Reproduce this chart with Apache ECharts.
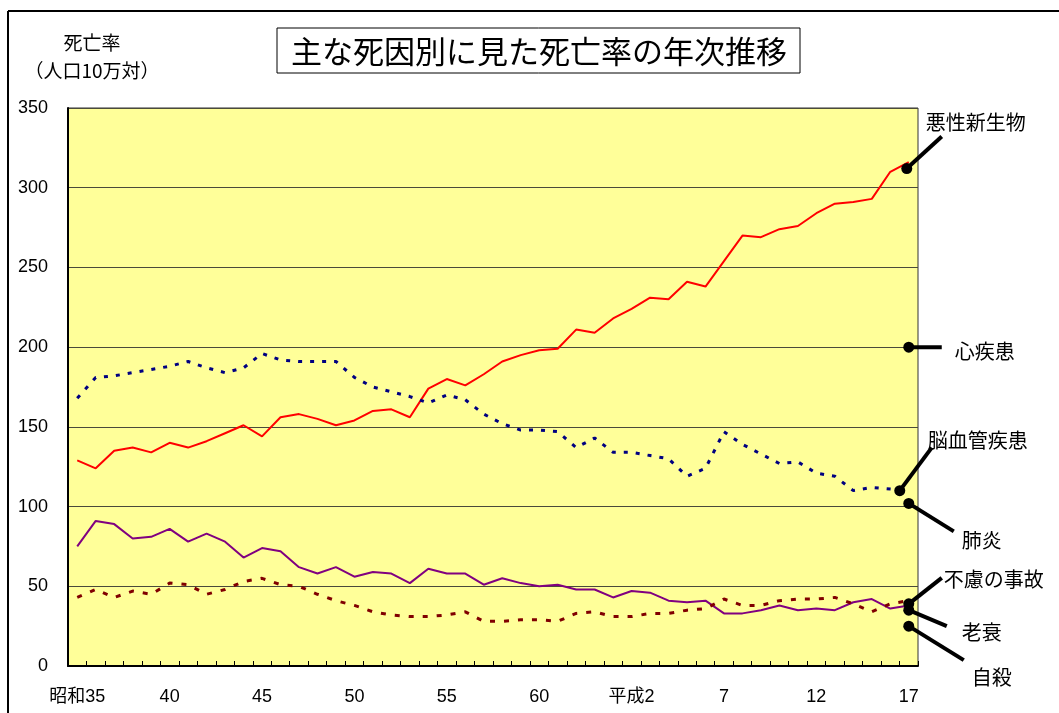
<!DOCTYPE html>
<html>
<head>
<meta charset="utf-8">
<script src="https://cdn.jsdelivr.net/npm/echarts@6/dist/echarts.min.js"></script>
<style>
  html, body { margin: 0; padding: 0; background: #fff; }
  #chart { width: 1059px; height: 713px; }
</style>
</head>
<body>
<div id="chart"></div>
<script>
// ---- data ----
const years = ['昭和35', '36', '37', '38', '39', '40', '41', '42', '43', '44', '45', '46', '47', '48', '49',
  '50', '51', '52', '53', '54', '55', '56', '57', '58', '59', '60', '61', '62', '63', '平成元',
  '平成2', '3', '4', '5', '6', '7', '8', '9', '10', '11', '12', '13', '14', '15', '16', '17'];

const cancer = [129, 124, 135, 137, 134, 140, 137, 141, 146, 151, 144, 156, 158, 155, 151, 154, 160, 161, 156, 174,
  180, 176, 183, 191, 195, 198, 199, 211, 209, 218, 224, 231, 230, 241, 238, 254, 270, 269, 274, 276,
  284, 290, 291, 293, 310, 316];
const cerebro = [168, 181, 182, 184, 186, 188, 191, 187, 184, 187, 196, 192, 191, 191, 191, 181, 175, 172, 169, 165,
  170, 167, 158, 152, 148, 148, 147, 137, 143, 134, 134, 132, 130, 119, 124, 147, 139, 133, 127, 128,
  121, 119, 110, 112, 111, 110];
const purple = [75, 91, 89, 80, 81, 86, 78, 83, 78, 68, 74, 72, 62, 58, 62, 56, 59, 58, 52, 61,
  58, 58, 51, 55, 52, 50, 51, 48, 48, 43, 47, 46, 41, 40, 41, 33, 33, 35, 38, 35,
  36, 35, 40, 42, 36, 38];
const brown = [43, 48, 43, 47, 45, 52, 51, 45, 48, 53, 55, 51, 50, 45, 41, 38, 34, 32, 31, 31,
  32, 34, 28, 28, 29, 29, 28, 33, 34, 31, 31, 33, 33, 35, 36, 42, 38, 38, 41, 42,
  42, 43, 39, 34, 39, 41];

// callout labels at the last year
const calloutNames = ['悪性新生物', '心疾患', '脳血管疾患', '肺炎', '不慮の事故', '老衰', '自殺'];
const calloutValues = [312, 200, 110, 102, 39, 35, 25];

// ---- styling ----
const JP = '"Noto Sans CJK JP", sans-serif';
const NUM = '"Liberation Sans", Arial, "Noto Sans CJK JP", sans-serif';
// leader line / text offsets from each marker (px)
const LEADER = {
  '悪性新生物': { mx: -2, lx: 35, ly: -32, tx: 19, ty: -46 },
  '心疾患':     { mx: 0, lx: 33, ly: 0, tx: 46, ty: 4 },
  '脳血管疾患': { mx: -9, lx: 32, ly: -43, tx: 28, ty: -50 },
  '肺炎':       { mx: 0, lx: 45, ly: 28, tx: 53, ty: 37 },
  '不慮の事故': { mx: 0, lx: 33, ly: -26, tx: 35, ty: -24 },
  '老衰':       { mx: 0, lx: 38, ly: 16, tx: 53, ty: 22 },
  '自殺':       { mx: 0, lx: 55, ly: 34, tx: 63, ty: 51 }
};

const chart = echarts.init(document.getElementById('chart'), null, { renderer: 'canvas' });

function lineSeries(name, data, style) {
  return { name, type: 'line', data, symbol: 'none', lineStyle: style, z: 3 };
}

chart.setOption({
  animation: false,
  backgroundColor: '#fff',
  grid: {
    left: 68, right: 141, top: 108, bottom: 47,
    show: true, backgroundColor: '#FFFF99', borderColor: '#333', borderWidth: 1,
    outerBoundsMode: 'none'
  },
  xAxis: {
    type: 'category',
    data: years,
    boundaryGap: true,
    axisLine: { lineStyle: { color: '#000', width: 2 } },
    axisTick: { show: true, inside: true, length: 5, interval: 0, lineStyle: { color: '#000', width: 1 } },
    axisLabel: { interval: 4, color: '#000', fontSize: 18, fontFamily: NUM, margin: 22 },
    splitLine: { show: false }
  },
  yAxis: {
    type: 'value',
    min: 0, max: 350, interval: 50,
    axisLine: { show: true, lineStyle: { color: '#000', width: 2 } },
    axisTick: { show: false },
    axisLabel: { color: '#000', fontSize: 18, fontFamily: NUM, margin: 20 },
    splitLine: { show: true, lineStyle: { color: '#4a4a3a', width: 1 } }
  },
  graphic: [
    // outer chart frame (left + top)
    { type: 'line', shape: { x1: 8, y1: 11, x2: 1059, y2: 11 }, style: { stroke: '#000', lineWidth: 2 } },
    { type: 'line', shape: { x1: 8, y1: 11, x2: 8, y2: 713 }, style: { stroke: '#000', lineWidth: 2 } },
    // boxed title
    { type: 'rect', shape: { x: 277, y: 28, width: 523, height: 45 }, style: { fill: '#fff', stroke: '#000', lineWidth: 1 } },
    { type: 'text', x: 539, y: 51, style: { text: '主な死因別に見た死亡率の年次推移', font: '31px ' + JP, fill: '#000', align: 'center', verticalAlign: 'middle' } },
    // y axis title
    { type: 'text', x: 92, y: 43, style: { text: '死亡率', font: '19px ' + JP, fill: '#000', align: 'center', verticalAlign: 'middle' } },
    { type: 'text', x: 92, y: 71, style: { text: '（人口10万対）', font: '19px ' + JP, fill: '#000', align: 'center', verticalAlign: 'middle' } }
  ],
  series: [
    lineSeries('悪性新生物', cancer, { color: '#FF0000', width: 2 }),
    lineSeries('脳血管疾患', cerebro, { color: '#000080', width: 3, type: [4, 8] }),
    lineSeries('老衰', purple, { color: '#800080', width: 2 }),
    lineSeries('不慮の事故', brown, { color: '#800000', width: 3, type: [5, 9] }),
    {
      type: 'custom',
      coordinateSystem: 'cartesian2d',
      z: 10,
      clip: false,
      data: calloutValues.map(v => [years.length - 1, v]),
      renderItem(params, api) {
        const name = calloutNames[params.dataIndex];
        const o = LEADER[name];
        const p = api.coord([api.value(0), api.value(1)]);
        const x = p[0] + o.mx, y = p[1];
        return {
          type: 'group',
          children: [
            { type: 'line', shape: { x1: x, y1: y, x2: x + o.lx, y2: y + o.ly }, style: { stroke: '#000', lineWidth: 4 } },
            { type: 'circle', shape: { cx: x, cy: y, r: 5.5 }, style: { fill: '#000' } },
            { type: 'text', x: x + o.tx, y: y + o.ty, style: { text: name, font: '20px ' + JP, fill: '#000', align: 'left', verticalAlign: 'middle' } }
          ]
        };
      }
    }
  ]
});
</script>
</body>
</html>
